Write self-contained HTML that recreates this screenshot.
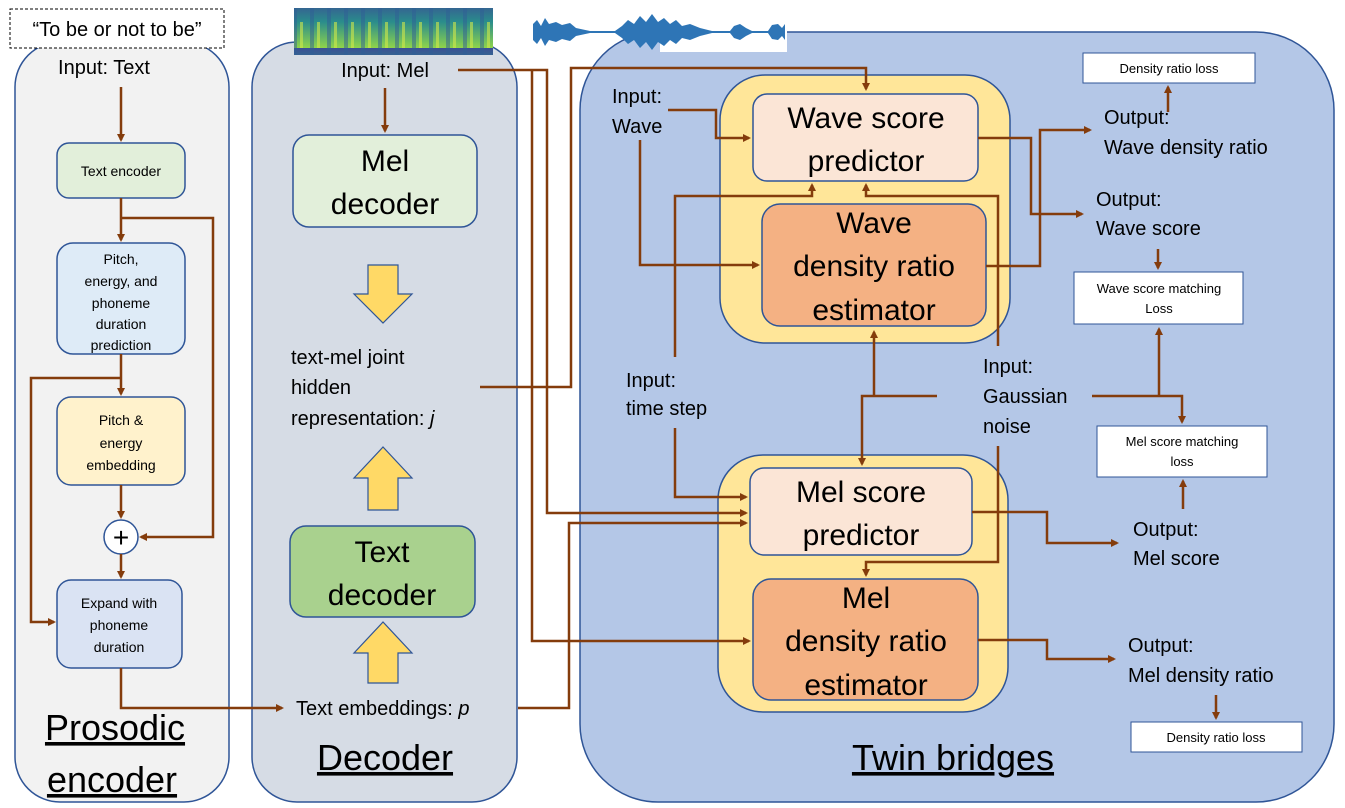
<!DOCTYPE html>
<html><head><meta charset="utf-8"><style>
html,body{margin:0;padding:0;background:#fff;}
svg{display:block;}
text{font-family:"Liberation Sans",sans-serif;fill:#000;}
</style></head><body>
<svg width="1345" height="808" viewBox="0 0 1345 808" xmlns="http://www.w3.org/2000/svg">
<defs>
<marker id="a" markerWidth="8" markerHeight="8" refX="6" refY="4" orient="auto" markerUnits="userSpaceOnUse"><path d="M0,0 L8,4 L0,8 z" fill="#843c0c"/></marker>
<linearGradient id="sp" x1="0" y1="0" x2="0" y2="1"><stop offset="0" stop-color="#3b4f94"/><stop offset="0.45" stop-color="#2a8c8c"/><stop offset="1" stop-color="#8fd44a"/></linearGradient>
<pattern id="spp" width="17" height="48" patternUnits="userSpaceOnUse"><rect width="17" height="48" fill="url(#sp)"/><rect x="4" y="0" width="4" height="48" fill="#2f5e96" opacity="0.5"/><rect x="11" y="22" width="3" height="26" fill="#d0e84a" opacity="0.6"/></pattern>
</defs>

<!-- Prosodic -->
<rect x="15" y="42" width="214" height="760" rx="45" fill="#f2f2f2" stroke="#2f5597" stroke-width="1.5"/>
<rect x="10" y="9" width="214" height="39" fill="#fff" stroke="#000" stroke-width="1" stroke-dasharray="3,2"/>
<text x="117" y="36" font-size="20" text-anchor="middle">“To be or not to be”</text>
<text x="104" y="74" font-size="20" text-anchor="middle">Input: Text</text>
<rect x="57" y="143" width="128" height="55" rx="12" fill="#e2efda" stroke="#2f5597" stroke-width="1.5"/>
<text x="121" y="176" font-size="14" text-anchor="middle">Text encoder</text>
<rect x="57" y="243" width="128" height="111" rx="16" fill="#deebf7" stroke="#2f5597" stroke-width="1.5"/>
<g font-size="14" text-anchor="middle"><text x="121" y="264">Pitch,</text><text x="121" y="286">energy, and</text><text x="121" y="308">phoneme</text><text x="121" y="329">duration</text><text x="121" y="350">prediction</text></g>
<rect x="57" y="397" width="128" height="88" rx="14" fill="#fff2cc" stroke="#2f5597" stroke-width="1.5"/>
<g font-size="14" text-anchor="middle"><text x="121" y="425">Pitch &amp;</text><text x="121" y="448">energy</text><text x="121" y="470">embedding</text></g>
<circle cx="121" cy="537" r="17" fill="#fff" stroke="#2f5597" stroke-width="1.5"/>
<text x="121" y="547" font-size="28" text-anchor="middle">+</text>
<rect x="57" y="580" width="125" height="88" rx="14" fill="#dae3f3" stroke="#2f5597" stroke-width="1.5"/>
<g font-size="14" text-anchor="middle"><text x="119" y="608">Expand with</text><text x="119" y="630">phoneme</text><text x="119" y="652">duration</text></g>
<g font-size="36" text-anchor="middle"><text x="115" y="740" text-decoration="underline">Prosodic</text><text x="112" y="792" text-decoration="underline">encoder</text></g>

<!-- Decoder -->
<rect x="252" y="42" width="265" height="760" rx="45" fill="#d6dce5" stroke="#2f5597" stroke-width="1.5"/>
<rect x="294" y="8" width="199" height="47" fill="url(#spp)"/>
<text x="385" y="77" font-size="20" text-anchor="middle">Input: Mel</text>
<rect x="293" y="135" width="184" height="92" rx="16" fill="#e2efda" stroke="#2f5597" stroke-width="1.5"/>
<g font-size="30" text-anchor="middle"><text x="385" y="171">Mel</text><text x="385" y="214">decoder</text></g>
<path d="M368,265 L398,265 L398,294 L412,294 L383,323 L354,294 L368,294 Z" fill="#ffd966" stroke="#2f5597" stroke-width="1.2"/>
<g font-size="20"><text x="291" y="364">text-mel joint</text><text x="291" y="394">hidden</text><text x="291" y="425">representation: <tspan font-style="italic">j</tspan></text></g>
<path d="M368,510 L398,510 L398,478 L412,478 L383,447 L354,478 L368,478 Z" fill="#ffd966" stroke="#2f5597" stroke-width="1.2"/>
<rect x="290" y="526" width="185" height="91" rx="16" fill="#a9d18e" stroke="#2f5597" stroke-width="1.5"/>
<g font-size="30" text-anchor="middle"><text x="382" y="562">Text</text><text x="382" y="605">decoder</text></g>
<path d="M368,683 L398,683 L398,653 L412,653 L383,622 L354,653 L368,653 Z" fill="#ffd966" stroke="#2f5597" stroke-width="1.2"/>
<text x="296" y="715" font-size="20">Text embeddings: <tspan font-style="italic">p</tspan></text>
<text x="385" y="770" font-size="36" text-anchor="middle" text-decoration="underline">Decoder</text>

<!-- Twin bridges -->
<rect x="580" y="32" width="754" height="770" rx="78" fill="#b4c7e7" stroke="#2f5597" stroke-width="1.5"/>
<rect x="660" y="8" width="127" height="44" fill="#fff"/>
<path d="M533,24 L537,20 L541,26 L545,18 L549,24 L556,22 L562,25 L570,23 L576,28 L590,31 L615,31 L622,26 L628,20 L634,24 L640,16 L646,22 L652,14 L658,22 L664,18 L670,24 L676,20 L682,26 L690,24 L700,28 L712,31 L730,31 L734,26 L740,24 L746,28 L752,31 L768,31 L772,25 L778,24 L782,28 L785,24 L785,40 L782,36 L778,40 L772,39 L768,33 L752,33 L746,36 L740,40 L734,38 L730,33 L712,33 L700,36 L690,40 L682,38 L676,44 L670,40 L664,46 L658,42 L652,50 L646,42 L640,48 L634,40 L628,44 L622,38 L615,33 L590,33 L576,36 L570,41 L562,39 L556,42 L549,40 L545,46 L541,38 L537,44 L533,40 Z" fill="#2e75b6"/>
<rect x="720" y="75" width="290" height="268" rx="45" fill="#ffe699" stroke="#2f5597" stroke-width="1.5"/>
<rect x="718" y="455" width="290" height="257" rx="45" fill="#ffe699" stroke="#2f5597" stroke-width="1.5"/>
<rect x="753" y="94" width="225" height="87" rx="14" fill="#fbe5d6" stroke="#2f5597" stroke-width="1.5"/>
<g font-size="30" text-anchor="middle"><text x="866" y="128">Wave score</text><text x="866" y="171">predictor</text></g>
<rect x="762" y="204" width="224" height="122" rx="18" fill="#f4b183" stroke="#2f5597" stroke-width="1.5"/>
<g font-size="30" text-anchor="middle"><text x="874" y="233">Wave</text><text x="874" y="276">density ratio</text><text x="874" y="320">estimator</text></g>
<rect x="750" y="468" width="222" height="87" rx="14" fill="#fbe5d6" stroke="#2f5597" stroke-width="1.5"/>
<g font-size="30" text-anchor="middle"><text x="861" y="502">Mel score</text><text x="861" y="545">predictor</text></g>
<rect x="753" y="579" width="225" height="121" rx="18" fill="#f4b183" stroke="#2f5597" stroke-width="1.5"/>
<g font-size="30" text-anchor="middle"><text x="866" y="608">Mel</text><text x="866" y="651">density ratio</text><text x="866" y="695">estimator</text></g>

<g font-size="20">
<text x="612" y="103">Input:</text><text x="612" y="133">Wave</text>
<text x="626" y="387">Input:</text><text x="626" y="415">time step</text>
<text x="983" y="373">Input:</text><text x="983" y="403">Gaussian</text><text x="983" y="433">noise</text>
<text x="1104" y="124">Output:</text><text x="1104" y="154">Wave density ratio</text>
<text x="1096" y="206">Output:</text><text x="1096" y="235">Wave score</text>
<text x="1133" y="536">Output:</text><text x="1133" y="565">Mel score</text>
<text x="1128" y="652">Output:</text><text x="1128" y="682">Mel density ratio</text>
</g>
<rect x="1083" y="53" width="172" height="30" fill="#fff" stroke="#2f5597" stroke-width="1"/>
<text x="1169" y="73" font-size="13" text-anchor="middle">Density ratio loss</text>
<rect x="1074" y="272" width="169" height="52" fill="#fff" stroke="#2f5597" stroke-width="1"/>
<text x="1159" y="293" font-size="13" text-anchor="middle">Wave score matching</text><text x="1159" y="313" font-size="13" text-anchor="middle">Loss</text>
<rect x="1097" y="426" width="170" height="51" fill="#fff" stroke="#2f5597" stroke-width="1"/>
<text x="1182" y="446" font-size="13" text-anchor="middle">Mel score matching</text><text x="1182" y="466" font-size="13" text-anchor="middle">loss</text>
<rect x="1131" y="722" width="171" height="30" fill="#fff" stroke="#2f5597" stroke-width="1"/>
<text x="1216" y="742" font-size="13" text-anchor="middle">Density ratio loss</text>
<text x="953" y="770" font-size="36" text-anchor="middle" text-decoration="underline">Twin bridges</text>

<!-- connectors -->
<g fill="none" stroke="#843c0c" stroke-width="2.5">
<path d="M121,87 V140" marker-end="url(#a)"/>
<path d="M121,198 V240" marker-end="url(#a)"/>
<path d="M121,218 H213 V537 H141" marker-end="url(#a)"/>
<path d="M121,354 V394" marker-end="url(#a)"/>
<path d="M121,378 H31 V622 H54" marker-end="url(#a)"/>
<path d="M121,485 V517" marker-end="url(#a)"/>
<path d="M121,554 V577" marker-end="url(#a)"/>
<path d="M121,668 V708 H282" marker-end="url(#a)"/>
<path d="M385,88 V131" marker-end="url(#a)"/>
<path d="M458,70 H547 V513 H746" marker-end="url(#a)"/>
<path d="M532,70 V641 H749" marker-end="url(#a)"/>
<path d="M480,387 H571 V68 H866 V89" marker-end="url(#a)"/>
<path d="M518,708 H569 V523 H746" marker-end="url(#a)"/>
<path d="M668,110 H716 V138 H749" marker-end="url(#a)"/>
<path d="M640,140 V265 H758" marker-end="url(#a)"/>
<path d="M675,357 V196 H812 V185" marker-end="url(#a)"/>
<path d="M675,428 V497 H746" marker-end="url(#a)"/>
<path d="M998,346 V196 H866 V185" marker-end="url(#a)"/>
<path d="M998,446 V562 H866 V575" marker-end="url(#a)"/>
<path d="M937,396 H862 V464" marker-end="url(#a)"/>
<path d="M874,396 V332" marker-end="url(#a)"/>
<path d="M978,138 H1031 V214 H1082" marker-end="url(#a)"/>
<path d="M986,266 H1040 V130 H1090" marker-end="url(#a)"/>
<path d="M1168,112 V87" marker-end="url(#a)"/>
<path d="M1158,249 V268" marker-end="url(#a)"/>
<path d="M1092,396 H1182 V422" marker-end="url(#a)"/>
<path d="M1159,396 V329" marker-end="url(#a)"/>
<path d="M1183,509 V481" marker-end="url(#a)"/>
<path d="M972,512 H1047 V543 H1117" marker-end="url(#a)"/>
<path d="M978,640 H1047 V659 H1114" marker-end="url(#a)"/>
<path d="M1216,695 V718" marker-end="url(#a)"/>
</g>
</svg>
</body></html>
